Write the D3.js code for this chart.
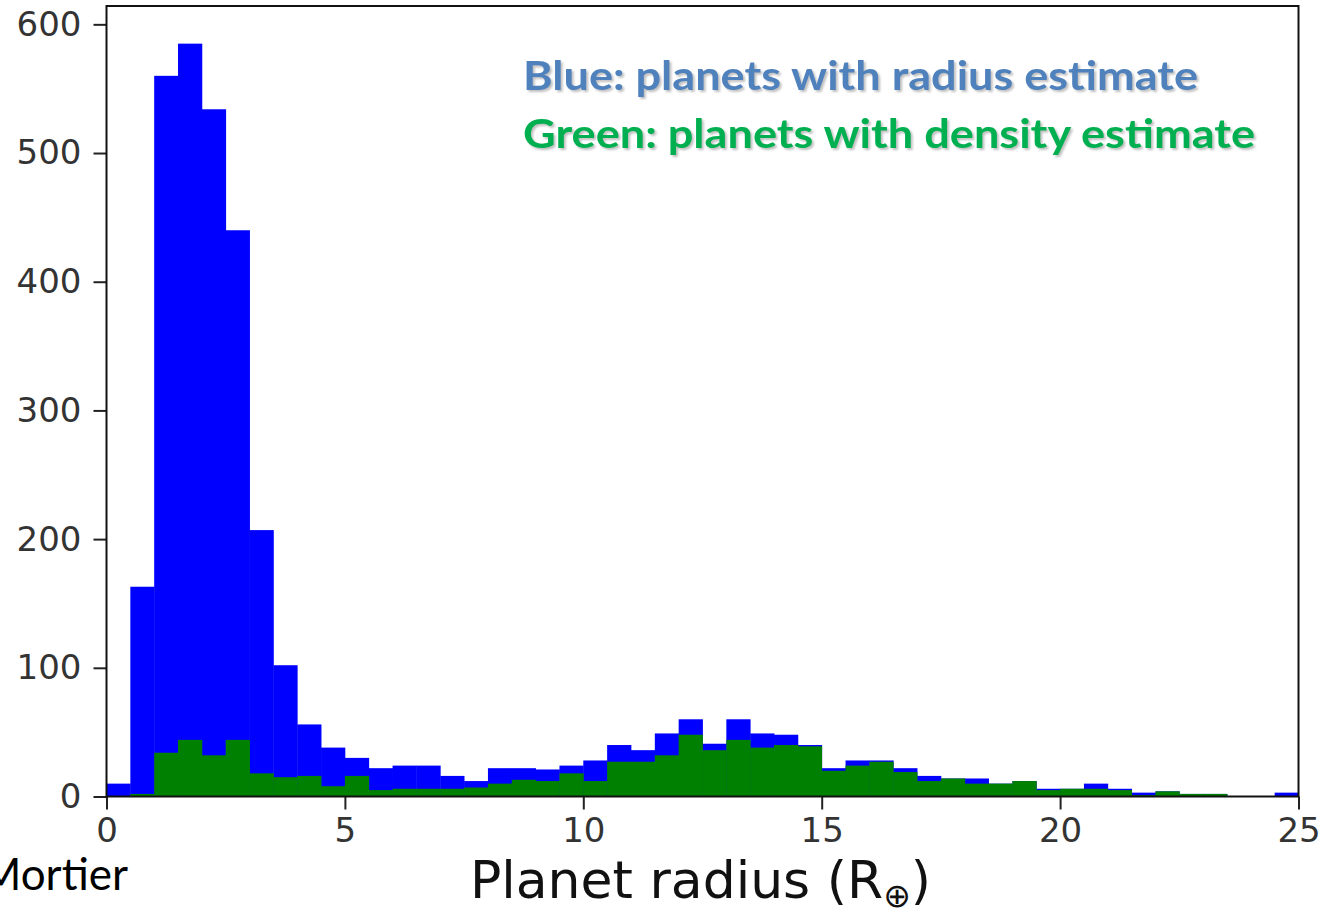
<!DOCTYPE html>
<html>
<head>
<meta charset="utf-8">
<script src="https://cdn.jsdelivr.net/npm/d3@7"></script>
<style>
	body { margin: 0; background: #fff; }
	.axis text { font-family: "DejaVu Sans", sans-serif; font-size: 34px; fill: #333; }
	.axis path { display: none; }
	.axis line { stroke: #222; stroke-width: 2; }
	.note { font-family: Lato, "Open Sans", sans-serif; font-weight: bold; font-size: 41px; filter: drop-shadow(2px 2px 1px rgba(0,0,0,0.25)); }
</style>
</head>
<body>
<div id="chartHist"></div>
<script>
// histogram counts, bins of 0.5 R_earth from 0 to 25
var binWidth = 0.5;
var blueCounts = [10, 163, 560, 585, 534, 440, 207, 102, 56, 38,
	30, 22, 24, 24, 16, 12, 22, 22, 21, 24,
	28, 40, 36, 49, 60, 41, 60, 49, 48, 40,
	22, 28, 28, 22, 16, 14, 14, 10, 12, 6,
	6, 10, 6, 3, 4, 2, 2, 0, 0, 3];
var greenCounts = [0, 2, 34, 44, 32, 44, 18, 15, 16, 8,
	16, 5, 6, 6, 6, 7, 10, 13, 12, 18,
	12, 27, 27, 32, 48, 36, 44, 38, 40, 39,
	20, 24, 27, 19, 12, 14, 10, 10, 12, 5,
	6, 6, 5, 1, 4, 2, 2, 0, 0, 0];
var xTicks = [0, 5, 10, 15, 20, 25];
var yTicks = [0, 100, 200, 300, 400, 500, 600];
var noteLines = ["Blue: planets with radius estimate", "Green: planets with density estimate"];

var width = 1322, height = 922;
var margin = {top: 6, right: 23.5, bottom: 125.5, left: 106.5};
var chartWidth = width - margin.left - margin.right,
	chartHeight = height - margin.top - margin.bottom;

var svg = d3.select("#chartHist").append("svg")
	.attr("width", width)
	.attr("height", height);

var x = d3.scaleLinear().domain([0, 25]).range([0, chartWidth]);
var y = d3.scaleLinear().domain([0, d3.max(blueCounts) * 1.05]).range([chartHeight, 0]);

var g = svg.append("g")
	.attr("transform", "translate(" + margin.left + "," + margin.top + ")");

function drawBars(counts, cls, colour) {
	g.selectAll(".bar." + cls)
		.data(counts)
	  .enter().append("rect")
		.attr("class", "bar " + cls)
		.attr("x", function(d, i) { return x(i * binWidth); })
		.attr("width", function(d, i) { return x((i + 1) * binWidth) - x(i * binWidth) + 0.4; })
		.attr("y", function(d) { return y(d); })
		.attr("height", function(d) { return chartHeight - y(d); })
		.attr("fill", colour);
}
drawBars(blueCounts, "blue", "#0000ff");
drawBars(greenCounts, "green", "#008000");

g.append("g")
	.attr("class", "x axis")
	.attr("transform", "translate(0," + chartHeight + ")")
	.call(d3.axisBottom(x).tickValues(xTicks).tickSize(13).tickPadding(8));

g.append("g")
	.attr("class", "y axis")
	.call(d3.axisLeft(y).tickValues(yTicks).tickSize(13).tickPadding(12));

// frame
g.append("rect")
	.attr("width", chartWidth)
	.attr("height", chartHeight)
	.attr("fill", "none")
	.attr("stroke", "#111")
	.attr("stroke-width", 2);

g.append("text")
	.attr("x", (x(0) + x(25)) / 2 - 2)
	.attr("y", chartHeight + 101)
	.attr("text-anchor", "middle")
	.style("font-family", "DejaVu Sans, sans-serif")
	.style("font-size", "52px")
	.style("fill", "#111")
	.html("Planet radius (R<tspan dy='9' font-size='33px'>\u2295</tspan><tspan dy='-9'>)</tspan>");

svg.selectAll(".note")
	.data(noteLines)
  .enter().append("text")
	.attr("class", "note")
	.attr("x", 523)
	.attr("y", function(d, i) { return 90 + i * 58; })
	.attr("textLength", function(d, i) { return i ? 732 : 675; })
	.attr("lengthAdjust", "spacingAndGlyphs")
	.style("fill", function(d, i) { return i ? "#00b050" : "#4f81bd"; })
	.text(function(d) { return d; });

svg.append("text")
	.attr("x", 128)
	.attr("y", 890)
	.attr("text-anchor", "end")
	.style("font-family", "Lato, 'Open Sans', sans-serif")
	.style("font-size", "44px")
	.style("fill", "#000")
	.text("Mortier");
</script>
</body>
</html>
